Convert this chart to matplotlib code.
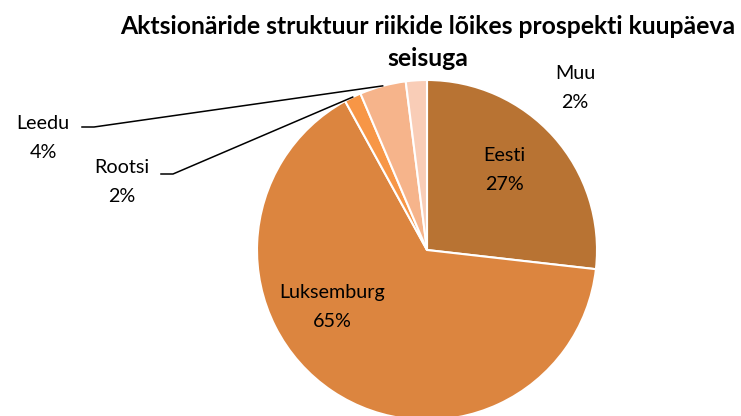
import matplotlib
matplotlib.use("Agg")
import matplotlib.pyplot as plt
import numpy as np
from matplotlib.lines import Line2D

categories = ["Eesti", "Luksemburg", "Rootsi", "Leedu", "Muu"]
values = [26.8, 65.2, 1.6, 4.4, 2.0]
colors = ["#B87333", "#DC853F", "#F79646", "#F6B48B", "#F9CDB7"]
title_lines = ["Aktsionäride struktuur riikide lõikes prospekti kuupäeva", "seisuga"]

W, H = 741, 416
fig = plt.figure(figsize=(W/100, H/100), dpi=100)
plt.rcParams['font.family'] = ['Lato', 'DejaVu Sans']

cx, cy, R = 427, 250, 170
ax = fig.add_axes([(cx-R)/W, (H-cy-R)/H, 2*R/W, 2*R/H])
wedges, _ = ax.pie(values, colors=colors, startangle=90, counterclock=False,
                   wedgeprops=dict(edgecolor="white", linewidth=1.5))
ax.set_xlim(-1, 1); ax.set_ylim(-1, 1); ax.set_aspect('equal'); ax.axis('off')

def fx(px): return px / W
def fy(py): return 1 - py / H

fs = 14.2
def label(i, x, y):
    fig.text(fx(x), fy(y), f"{categories[i]}\n{round(values[i]):.0f}%", ha='center', va='center',
             fontsize=fs, linespacing=1.8, color='black')

label(0, 504, 170)
label(1, 332, 307)
label(4, 575, 88)
label(2, 122, 182)
label(3, 43, 138)

def leader(i, x0, y0):
    w = wedges[i]
    mid = np.deg2rad((w.theta1 + w.theta2) / 2)
    disp = ax.transData.transform((np.cos(mid), np.sin(mid)))
    p2 = fig.transFigure.inverted().transform(disp)
    xs = [fx(x0), fx(x0 + 12), p2[0]]
    ys = [fy(y0), fy(y0), p2[1]]
    fig.add_artist(Line2D(xs, ys, color='black', linewidth=1.1, transform=fig.transFigure))

leader(3, 82, 127)
leader(2, 161, 174)

for line, y in zip(title_lines, [27, 58]):
    fig.text(fx(428), fy(y), line, ha='center', va='center', fontsize=17.8, fontweight='bold')

fig.savefig("out.png", dpi=100)
